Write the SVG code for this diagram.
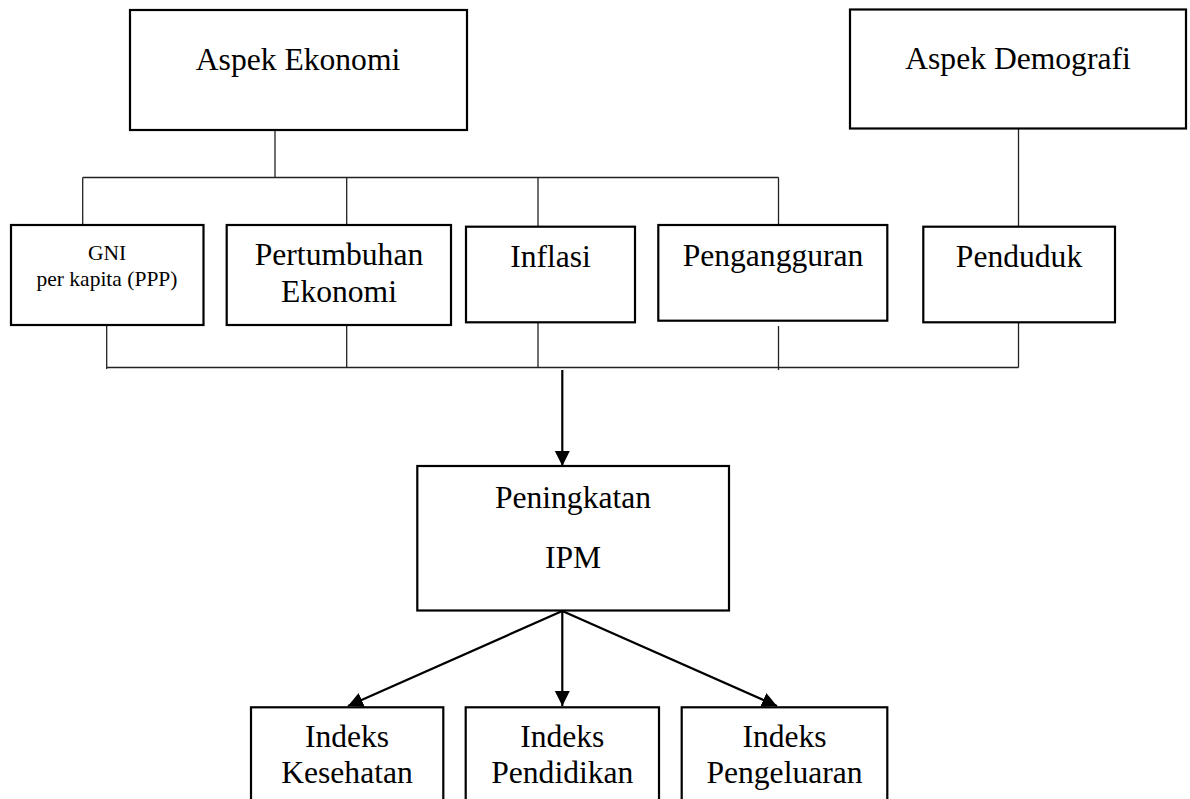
<svg xmlns="http://www.w3.org/2000/svg" width="1190" height="799" viewBox="0 0 1190 799">
<style>
.box{fill:#fff;stroke:#000;stroke-width:2.2}
.t{font-family:'Liberation Serif','Times New Roman','DejaVu Serif',serif;font-size:31.6px;fill:#000;text-anchor:middle}
.s{font-family:'Liberation Serif','Times New Roman','DejaVu Serif',serif;font-size:21.5px;fill:#000;text-anchor:middle}
.ln{fill:none;stroke:#222;stroke-width:1.3}
.ar{fill:none;stroke:#000;stroke-width:2.2}
</style>
<defs>
<marker id="ah" markerUnits="userSpaceOnUse" markerWidth="16" markerHeight="16" refX="15" refY="7.5" orient="auto" viewBox="0 0 16 16">
<path d="M0,0 L15,7.5 L0,15 z" fill="#000"/>
</marker>
</defs>
<rect width="1190" height="799" fill="#fff"/>
<g id="connectors">
<path class="ln" d="M275,130 V177.5 M82.7,177.5 H778.5 M82.7,177.5 V225 M346.7,177.5 V226 M538,177.5 V226.5 M778.5,177.5 V225"/>
<path class="ln" d="M1018.5,128 V226.5"/>
<path class="ln" d="M106.7,325 V369 M346.7,325 V367.5 M538,322.5 V367.5 M778.5,326 V370 M1018.5,322.5 V367.5 M106.7,367.5 H1018.5"/>
<line class="ar" x1="562.3" y1="370" x2="562.3" y2="466" marker-end="url(#ah)"/>
<line class="ar" x1="562.3" y1="611" x2="348" y2="706" marker-end="url(#ah)"/>
<line class="ar" x1="562.3" y1="611" x2="562.3" y2="706" marker-end="url(#ah)"/>
<line class="ar" x1="562.3" y1="611" x2="777" y2="706" marker-end="url(#ah)"/>
</g>
<g id="aspek-ekonomi"><rect class="box" x="130" y="10" width="337" height="120"/><text class="t" x="298" y="70">Aspek Ekonomi</text></g>
<g id="aspek-demografi"><rect class="box" x="850" y="9.5" width="336" height="119"/><text class="t" x="1018" y="68.5">Aspek Demografi</text></g>
<g id="gni"><rect class="box" x="11" y="225" width="192.5" height="100"/><text class="s" x="107" y="259.5">GNI</text><text class="s" x="107" y="286">per kapita (PPP)</text></g>
<g id="pertumbuhan"><rect class="box" x="226.7" y="225" width="224.3" height="100"/><text class="t" x="339" y="265">Pertumbuhan</text><text class="t" x="339" y="301.5">Ekonomi</text></g>
<g id="inflasi"><rect class="box" x="466" y="226.7" width="169" height="95.6"/><text class="t" x="550.5" y="266.7">Inflasi</text></g>
<g id="pengangguran"><rect class="box" x="658.3" y="225" width="229" height="95.7"/><text class="t" x="773" y="265.7">Pengangguran</text></g>
<g id="penduduk"><rect class="box" x="923.3" y="226.7" width="191.7" height="95.6"/><text class="t" x="1019" y="266.7">Penduduk</text></g>
<g id="ipm"><rect class="box" x="417.3" y="466" width="311.7" height="144.5"/><text class="t" x="573" y="508.3">Peningkatan</text><text class="t" x="573" y="568.3">IPM</text></g>
<g id="kesehatan"><rect class="box" x="251" y="707.3" width="192.3" height="110"/><text class="t" x="347" y="746.7">Indeks</text><text class="t" x="347" y="783.3">Kesehatan</text></g>
<g id="pendidikan"><rect class="box" x="465.7" y="707.3" width="193.3" height="110"/><text class="t" x="562.3" y="746.7">Indeks</text><text class="t" x="562.3" y="783.3">Pendidikan</text></g>
<g id="pengeluaran"><rect class="box" x="681.7" y="707.3" width="205.6" height="110"/><text class="t" x="784.5" y="746.7">Indeks</text><text class="t" x="784.5" y="783.3">Pengeluaran</text></g>
</svg>
